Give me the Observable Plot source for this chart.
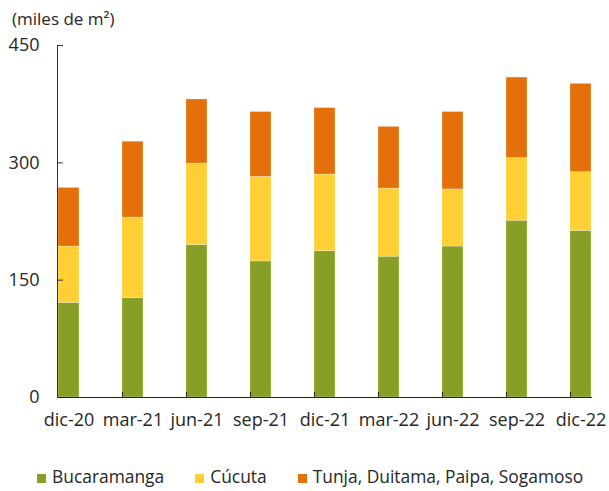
<!DOCTYPE html>
<html>
<head>
<meta charset="utf-8">
<script src="https://cdn.jsdelivr.net/npm/d3@7"></script>
<script src="https://cdn.jsdelivr.net/npm/@observablehq/plot@0.6"></script>
<style>
  body { margin: 0; background: #fff; }
  #wrap { position: relative; width: 609px; height: 491px; font-family: "Open Sans", sans-serif; color: #262626; }
  #title { position: absolute; left: 12px; top: 7px; font-size: 17px; line-height: 23px; white-space: nowrap; }
  #chart { position: absolute; left: 0; top: 0; }
  #legend { position: absolute; left: 37px; top: 465px; display: flex; align-items: center; font-size: 17.4px; line-height: 23px; white-space: nowrap; }
  .item { display: flex; align-items: center; margin-right: 31px; }
  .sw { width: 9px; height: 9px; margin-right: 6px; margin-top: 3px; }
</style>
</head>
<body>
<div id="wrap">
  <div id="chart"></div>
  <div id="title">(miles de m²)</div>
  <div id="legend"></div>
</div>
<script>
const categories = ["dic-20", "mar-21", "jun-21", "sep-21", "dic-21", "mar-22", "jun-22", "sep-22", "dic-22"];
const series = ["Bucaramanga", "Cúcuta", "Tunja, Duitama, Paipa, Sogamoso"];
const bucaramanga = [121, 127, 195, 174, 187, 180, 193, 226, 213];
const cucuta = [72, 103, 104, 108, 98, 87, 73, 80, 75];
const tunja = [75, 97, 82, 83, 85, 79, 99, 103, 113];
const colors = ["#879f24", "#ffcf33", "#e4700b"];
const yTicks = [0, 150, 300, 450];

const values = [bucaramanga, cucuta, tunja];
const data = [];
categories.forEach((c, i) => {
  series.forEach((s, j) => data.push({fecha: c, serie: s, valor: values[j][i]}));
});

const W = 609, H = 491, mL = 57, mR = 17, mT = 45, mB = 94;
const pInner = 0.673;
const step = (W - mL - mR) / (categories.length - pInner);
const bw = step * (1 - pInner);
const frameH = H - mT - mB;

const chart = Plot.plot({
  width: W,
  height: H,
  marginLeft: mL,
  marginRight: mR,
  marginTop: mT,
  marginBottom: mB,
  style: {fontFamily: "Open Sans", fontSize: "18px", color: "#262626", background: "transparent"},
  x: {domain: categories, paddingInner: pInner, paddingOuter: 0, align: 0.5},
  y: {domain: [0, 450]},
  color: {domain: series, range: colors},
  marks: [
    Plot.barY(data, {x: "fecha", y: "valor", fill: "serie", stroke: "#ffffff", strokeOpacity: 0.45, strokeWidth: 0.6}),
    Plot.axisY({ticks: yTicks, tickSize: 0, tickPadding: 18, label: null, fontSize: 18}),
    Plot.axisX({tickSize: 0, tickPadding: 16, label: null, fontSize: 18}),
    Plot.tickY(yTicks, {y: d => d, insetRight: (W - mL - mR) - 6, stroke: "#333"}),
    Plot.tickX(categories.slice(1), {x: d => d, dx: -bw / 2, insetTop: frameH - 5, stroke: "#222"}),
    Plot.ruleY([0], {stroke: "#222"}),
    Plot.frame({anchor: "left", stroke: "#333"})
  ]
});
document.getElementById("chart").appendChild(chart);

const legend = document.getElementById("legend");
series.forEach((s, i) => {
  const item = document.createElement("div");
  item.className = "item";
  const sw = document.createElement("span");
  sw.className = "sw";
  sw.style.background = colors[i];
  const t = document.createElement("span");
  t.textContent = s;
  item.appendChild(sw);
  item.appendChild(t);
  legend.appendChild(item);
});
</script>
</body>
</html>
